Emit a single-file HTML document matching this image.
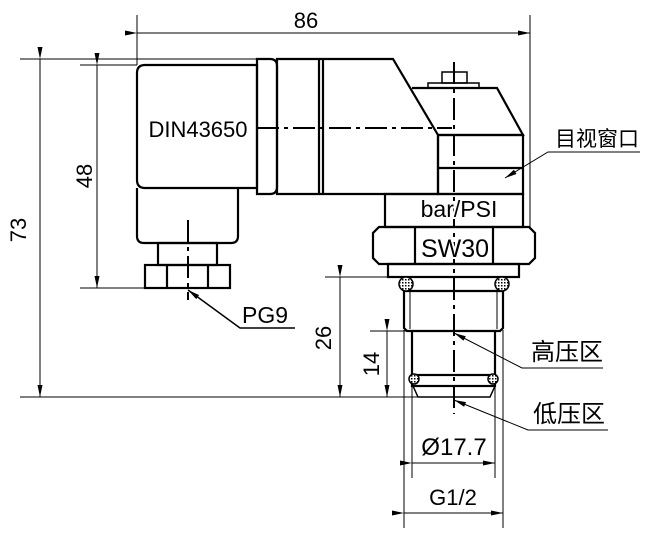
<!DOCTYPE html>
<html><head><meta charset="utf-8"><style>
html,body{margin:0;padding:0;background:#fff;}
svg{display:block;}
text{font-family:"Liberation Sans","Noto Sans CJK SC",sans-serif;fill:#000;}
.w{stroke:#fff;stroke-width:4px;paint-order:stroke;}
</style></head><body>
<svg width="656" height="547" viewBox="0 0 656 547" xmlns="http://www.w3.org/2000/svg">
<defs>
<marker id="a" markerWidth="12" markerHeight="5" refX="12" refY="2.5" orient="auto" markerUnits="userSpaceOnUse">
<path d="M0,0 L12,2.5 L0,5 Z" fill="#000"/></marker>
<pattern id="h" width="3" height="3" patternUnits="userSpaceOnUse"><rect width="3" height="3" fill="#fff"/><rect width="1.5" height="1.5" fill="#000"/></pattern>
</defs>
<g stroke="#000" stroke-width="2.2" fill="none">
<path d="M145,65 H257 V188 H145 Q137,188 137,180 V73 Q137,65 145,65 Z"/>
<path d="M137,188 V236 Q137,243 144,243 H231 Q238,243 238,236 V188"/>
<rect x="158" y="243" width="59" height="22"/>
<rect x="145" y="265" width="85" height="23"/>
<line x1="167" y1="265" x2="167" y2="288"/><line x1="208" y1="265" x2="208" y2="288"/>
<path d="M257,59 H270 Q277,59 277,66 V187 Q277,194 270,194 H257 Z"/>
<path d="M277,59 H393 L438,135 V194 H277 Z"/>
<line x1="319" y1="59" x2="319" y2="194"/><line x1="323" y1="59" x2="323" y2="194"/>
<path d="M412,88 H497 L523,135 H438"/>
<rect x="438" y="135" width="85" height="59"/>
<line x1="438" y1="168" x2="523" y2="168"/>
<rect x="428" y="83" width="51" height="5" stroke-width="1.5"/>
<rect x="442" y="72" width="25" height="11" stroke-width="1.5"/>
<rect x="385" y="194" width="138" height="33"/>
<path d="M379,227 H529 L535,233 V258 L529,264 H379 L373,258 V233 Z"/>
<line x1="415" y1="227" x2="415" y2="264"/><line x1="493" y1="227" x2="493" y2="264"/>
<rect x="388" y="264" width="131" height="13"/>
<path d="M404,277 V328 L407,331 H500 L503,328 V277"/>
<line x1="404" y1="291" x2="503" y2="291"/>
<line x1="410" y1="291" x2="410" y2="329" stroke-width="1"/><line x1="497" y1="291" x2="497" y2="329" stroke-width="1"/>
<path d="M412,331 V375 M495,331 V375"/>
<rect x="412" y="375" width="83" height="11"/>
<path d="M413,386 L418,397 H490 L495,386" stroke-width="1.5"/>
</g>
<g stroke="#000" stroke-width="1.5" fill="url(#h)">
<circle cx="406" cy="284" r="7"/><circle cx="502" cy="284" r="7"/>
<circle cx="414" cy="379" r="5"/><circle cx="493" cy="379" r="5"/>
</g>
<g stroke="#000" stroke-width="2" fill="none" stroke-dasharray="22,5,4,5">
<line x1="454" y1="62" x2="454" y2="414"/>
<line x1="257" y1="128" x2="452" y2="128"/>
<line x1="188" y1="220" x2="188" y2="300"/>
</g>
<g stroke="#000" stroke-width="1" fill="none">
<line x1="137" y1="15" x2="137" y2="65"/><line x1="530" y1="15" x2="530" y2="227"/>
<line x1="137" y1="33" x2="530" y2="33" marker-start="url(#a)" marker-end="url(#a)"/>
<line x1="20" y1="59" x2="257" y2="59"/><line x1="20" y1="397" x2="454" y2="397"/>
<line x1="40" y1="59" x2="40" y2="397" marker-start="url(#a)" marker-end="url(#a)"/>
<line x1="80" y1="65" x2="137" y2="65"/><line x1="80" y1="288" x2="145" y2="288"/>
<line x1="97" y1="65" x2="97" y2="288" marker-start="url(#a)" marker-end="url(#a)"/>
<line x1="325" y1="277" x2="388" y2="277"/>
<line x1="340" y1="277" x2="340" y2="397" marker-start="url(#a)" marker-end="url(#a)"/>
<line x1="370" y1="331" x2="412" y2="331"/>
<line x1="387" y1="331" x2="387" y2="397" marker-start="url(#a)" marker-end="url(#a)"/>
<line x1="412" y1="386" x2="412" y2="478"/><line x1="495" y1="386" x2="495" y2="478"/>
<line x1="412" y1="463" x2="495" y2="463" marker-start="url(#a)" marker-end="url(#a)"/>
<line x1="404" y1="330" x2="404" y2="528"/><line x1="503" y1="330" x2="503" y2="528"/>
<line x1="404" y1="513" x2="503" y2="513" marker-start="url(#a)" marker-end="url(#a)"/>
<polyline points="603,368 522,368 454,333" marker-end="url(#a)"/>
<polyline points="608,430 528,430 454,400" marker-end="url(#a)"/>
<polyline points="640,152 548,152 505,178" marker-end="url(#a)"/>
<polyline points="295,328 240,328 188,290" marker-end="url(#a)" stroke-width="1.5"/>
</g>
<text x="306" y="28" font-size="22" text-anchor="middle">86</text>
<text transform="translate(26,230) rotate(-90)" font-size="22" text-anchor="middle">73</text>
<text transform="translate(92,176) rotate(-90)" font-size="22" text-anchor="middle">48</text>
<text transform="translate(331,338) rotate(-90)" font-size="22" text-anchor="middle">26</text>
<text transform="translate(379,364) rotate(-90)" font-size="22" text-anchor="middle">14</text>
<text x="198" y="137" font-size="22" text-anchor="middle" class="w">DIN43650</text>
<text x="459" y="217" font-size="23" text-anchor="middle" class="w">bar/PSI</text>
<text x="455" y="257" font-size="25" text-anchor="middle" class="w">SW30</text>
<text x="454" y="455" font-size="24" text-anchor="middle">Ø17.7</text>
<text x="453" y="505" font-size="22" text-anchor="middle">G1/2</text>
<text x="242" y="323" font-size="23">PG9</text>
<text x="555" y="146" font-size="21">目视窗口</text>
<text x="531" y="360" font-size="24">高压区</text>
<text x="533" y="422" font-size="24">低压区</text>
</svg>
</body></html>
